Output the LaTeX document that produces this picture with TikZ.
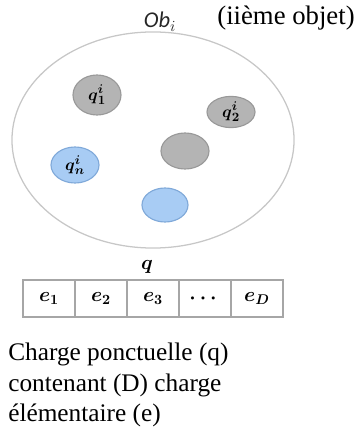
\documentclass[tikz,border=0pt]{standalone}
\usepackage{amsmath}
\usepackage{fontspec}
\setmainfont{Liberation Serif}
\newfontfamily\labelfont{Carlito}
\usepackage{tikz}
\usetikzlibrary{shapes.geometric,positioning}
\definecolor{chargegrey}{HTML}{B4B4B4}
\definecolor{chargegreyline}{HTML}{999999}
\definecolor{chargeblue}{HTML}{A8CCF4}
\definecolor{chargeblueline}{HTML}{80A9D9}
\tikzset{
  bigobj/.style={ellipse, draw=black!22, line width=0.9pt, minimum width=7.05cm, minimum height=5.4cm, inner sep=0pt},
  greycharge/.style={ellipse, draw=chargegreyline, fill=chargegrey, line width=0.8pt, minimum width=1.2cm, inner sep=0pt, font=\fontsize{13}{13}\selectfont},
  bluecharge/.style={ellipse, draw=chargeblueline, fill=chargeblue, line width=0.8pt, minimum width=1.2cm, inner sep=0pt, font=\fontsize{13}{13}\selectfont},
  cellbox/.style={draw=black!35, line width=0.8pt, minimum width=1.3cm, minimum height=0.925cm, inner sep=0pt, outer sep=0pt, font=\fontsize{14}{14}\selectfont},
  caption/.style={align=left, inner sep=0pt, font=\fontsize{18}{21.5}\selectfont}
}
\newcommand{\chq}[2]{$\boldsymbol{q}^{\boldsymbol{#1}}_{\boldsymbol{#2}}$}
\newcommand{\che}[1]{$\boldsymbol{e}_{\boldsymbol{#1}}$}

\begin{document}
\begin{tikzpicture}[x=0.025cm, y=-0.025cm]
  \useasboundingbox (0,0) rectangle (354,432);
  \node[bigobj] (obj) at (153,140) {};
  \node[text=black!85, font=\fontsize{16}{16}\selectfont\labelfont\itshape] (obname) at (160,22) {Ob$_{i}$};
  \node[font=\fontsize{19}{19}\selectfont] (objtext) at (286,18) {(iième objet)};
  \node[greycharge, minimum height=1.0cm] (q1) at (97,95) {\chq{i}{1}};
  \node[greycharge, minimum height=0.78cm] (q2) at (231,112) {\chq{i}{2}};
  \node[greycharge, minimum height=0.9cm] (q3) at (185,151) {};
  \node[bluecharge, minimum height=0.9cm] (qn) at (75,165) {\chq{i}{n}};
  \node[bluecharge, minimum width=1.15cm, minimum height=0.85cm] (q5) at (165,205) {};
  \node[font=\fontsize{14}{14}\selectfont] (q) at (147,267) {$\boldsymbol{q}$};
  \node[cellbox] (e1) at (49,298.5) {\che{1}};
  \node[cellbox] (e2) at (101,298.5) {\che{2}};
  \node[cellbox] (e3) at (153,298.5) {\che{3}};
  \node[cellbox] (e4) at (205,298.5) {$\boldsymbol{\cdots}$};
  \node[cellbox] (e5) at (257,298.5) {\che{D}};
  \node[caption, anchor=west] (note) at (8,385) {Charge ponctuelle (q)\\contenant (D) charge\\élémentaire (e)};
\end{tikzpicture}
\end{document}
